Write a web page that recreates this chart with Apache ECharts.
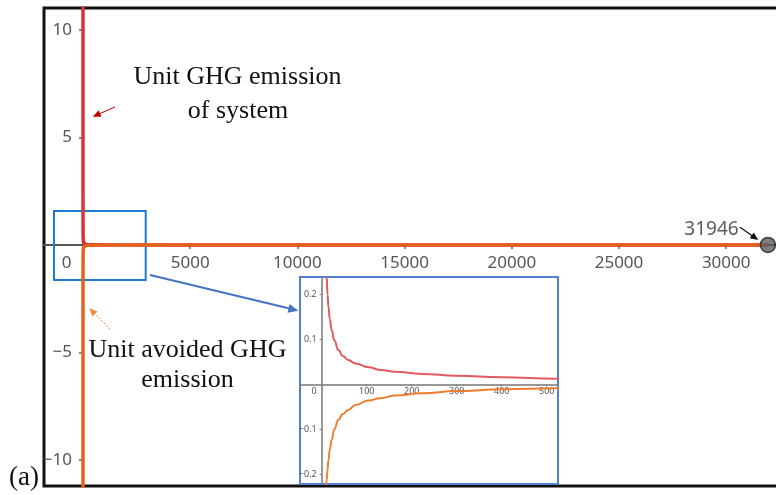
<!DOCTYPE html>
<html>
<head>
<meta charset="utf-8">
<script src="https://cdn.jsdelivr.net/npm/echarts@6/dist/echarts.min.js"></script>
<style>
html,body{margin:0;padding:0;background:#fff;}
#chart{width:776px;height:495px;}
</style>
</head>
<body>
<div id="chart"></div>
<script>
// ---- data ----
const curveX = [0.2, 0.5, 1, 2, 5, 11, 13, 15, 18, 22, 28, 37, 47, 59, 75, 104, 130, 163, 222, 300, 400, 522, 1000, 5000, 31946];
const unitEmission = [12, 5.2, 2.6, 1.3, 0.52, 0.239, 0.2, 0.172, 0.145, 0.121, 0.098, 0.076, 0.063, 0.054, 0.046, 0.038, 0.032, 0.028, 0.023, 0.019, 0.0155, 0.0125, 0.007, 0.0015, 0.0003];
const unitAvoided = [-12, -4.6, -2.3, -1.15, -0.46, -0.213, -0.19, -0.168, -0.145, -0.124, -0.1, -0.079, -0.066, -0.057, -0.046, -0.036, -0.031, -0.025, -0.02, -0.015, -0.011, -0.009, -0.005, -0.001, -0.0002];
const endPointX = [31946];
const endPointY = [0];
const mainXTicks = [0, 5000, 10000, 15000, 20000, 25000, 30000];
const mainYTicks = [-10, -5, 5, 10];
const insetXTicks = [0, 100, 200, 300, 400, 500];
const insetYTicks = [-0.2, -0.1, 0.1, 0.2];
const zoomBox = {x: [-1353, 2924], y: [1.58, -1.63]};

// axis ranges
const mainX = [-1819, 32510], mainY = [-11.21, 11.02];
const insetX = [-48.2, 525], insetY = [-0.2216, 0.2384];
// grid boxes (chart layout)
const W = 776, H = 495;
const g0 = {left: 44, top: 8, right: -4, bottom: 9};
const g1 = {left: 300, top: 277, right: 218, bottom: 11};

// offsets so the axes cross at zero (computed from the scales)
function zeroOffsets(g, xr, yr) {
  const w = W - g.left - g.right, h = H - g.top - g.bottom;
  const zx = (0 - xr[0]) / (xr[1] - xr[0]) * w;
  const zy = (yr[1] - 0) / (yr[1] - yr[0]) * h;
  return {x: -(h - zy), y: -zx};
}
const off0 = zeroOffsets(g0, mainX, mainY);
const off1 = zeroOffsets(g1, insetX, insetY);

const chart = echarts.init(document.getElementById('chart'), null, {renderer: 'canvas'});
const minus = v => String(v).replace('-', '\u2212');

function arrow(x1, y1, x2, y2, color, width, headLen, headW, dashed) {
  const dx = x2 - x1, dy = y2 - y1, L = Math.hypot(dx, dy);
  const ux = dx / L, uy = dy / L, px = -uy, py = ux;
  const bx = x2 - ux * headLen, by = y2 - uy * headLen;
  return [
    {type: 'line', shape: {x1: x1, y1: y1, x2: bx + ux * 1, y2: by + uy * 1},
     style: {stroke: color, lineWidth: width, lineDash: dashed ? [2, 1.5] : null}, z: 100},
    {type: 'polygon', shape: {points: [[x2, y2], [bx + px * headW, by + py * headW], [bx - px * headW, by - py * headW]]},
     style: {fill: color}, z: 100}
  ];
}

const serif = '"Liberation Serif", "Times New Roman", serif';
const sans = '"Noto Sans", "Open Sans", sans-serif';

const option = {
  animation: false,
  backgroundColor: '#fff',
  grid: [
    Object.assign({show: true, borderColor: '#111', borderWidth: 3, backgroundColor: '#fff', containLabel: false, outerBoundsMode: 'none'}, g0),
    Object.assign({show: true, borderColor: '#4f80d2', borderWidth: 2, backgroundColor: '#fff', containLabel: false, outerBoundsMode: 'none', z: 10}, g1)
  ],
  xAxis: [
    {type: 'value', gridIndex: 0, min: mainX[0], max: mainX[1], position: 'bottom', offset: off0.x,
     axisLine: {onZero: false, lineStyle: {color: '#555', width: 2}},
     axisTick: {show: true, length: 4, customValues: mainXTicks.slice(1), lineStyle: {color: '#666', width: 1.5}},
     axisLabel: {customValues: mainXTicks, margin: 10, color: '#555', fontSize: 17, fontFamily: sans,
       formatter: v => v === 0 ? '{z|0}' : minus(v),
       rich: {z: {padding: [0, 33, 0, 0], fontSize: 17, color: '#555', fontFamily: sans}}},
     splitLine: {show: false}},
    {type: 'value', gridIndex: 1, min: insetX[0], max: insetX[1], position: 'bottom', offset: off1.x,
     axisLine: {onZero: false, lineStyle: {color: '#777', width: 1.5}},
     axisTick: {show: true, length: 2, customValues: insetXTicks.slice(1), lineStyle: {color: '#777'}},
     axisLabel: {customValues: insetXTicks, margin: 3, color: '#555', fontSize: 9, fontFamily: sans,
       formatter: v => v === 0 ? '{z|0}' : minus(v),
       rich: {z: {padding: [0, 15, 0, 0], fontSize: 9, color: '#555', fontFamily: sans}}},
     splitLine: {show: false}, z: 10}
  ],
  yAxis: [
    {type: 'value', gridIndex: 0, min: mainY[0], max: mainY[1], position: 'left', offset: off0.y,
     axisLine: {onZero: false, lineStyle: {color: '#555', width: 2}},
     axisTick: {show: true, length: 4, customValues: mainYTicks, lineStyle: {color: '#666', width: 1.5}},
     axisLabel: {customValues: mainYTicks, margin: 11, color: '#555', fontSize: 17, fontFamily: sans, formatter: v => minus(v)},
     splitLine: {show: false}},
    {type: 'value', gridIndex: 1, min: insetY[0], max: insetY[1], position: 'left', offset: off1.y,
     axisLine: {onZero: false, lineStyle: {color: '#777', width: 1.5}},
     axisTick: {show: true, length: 2, customValues: insetYTicks, lineStyle: {color: '#777'}},
     axisLabel: {customValues: insetYTicks, margin: 5, color: '#555', fontSize: 9, fontFamily: sans, formatter: v => minus(v)},
     splitLine: {show: false}, z: 10}
  ],
  series: [
    {type: 'line', xAxisIndex: 0, yAxisIndex: 0, showSymbol: false, symbol: 'none', clip: true,
     data: curveX.map((x, i) => [x, unitEmission[i]]),
     lineStyle: {color: '#d8343a', width: 3.5}},
    {type: 'line', xAxisIndex: 0, yAxisIndex: 0, showSymbol: false, symbol: 'none', clip: true,
     data: curveX.map((x, i) => [x, unitAvoided[i]]),
     lineStyle: {color: '#e4621c', width: 3.5}},
    {type: 'scatter', xAxisIndex: 0, yAxisIndex: 0, z: 5,
     data: endPointX.map((x, i) => [x, endPointY[i]]),
     symbolSize: 15,
     itemStyle: {color: '#5e5e5e', borderColor: '#222', borderWidth: 1.5},
     label: {show: true, position: 'left', distance: 5, offset: [-16, -15], formatter: p => String(p.value[0]),
       color: '#333', fontSize: 19, fontFamily: sans},
     markArea: {silent: true,
       itemStyle: {color: 'rgba(0,0,0,0)', borderColor: '#1f7ad2', borderWidth: 2},
       data: [[{coord: [zoomBox.x[0], zoomBox.y[0]]}, {coord: [zoomBox.x[1], zoomBox.y[1]]}]]}},
    {type: 'line', xAxisIndex: 1, yAxisIndex: 1, showSymbol: false, symbol: 'none', clip: true, z: 12,
     smooth: 0.5, smoothMonotone: 'x',
     data: curveX.map((x, i) => [x, unitEmission[i]]),
     lineStyle: {color: '#e25a60', width: 2}},
    {type: 'line', xAxisIndex: 1, yAxisIndex: 1, showSymbol: false, symbol: 'none', clip: true, z: 12,
     smooth: 0.5, smoothMonotone: 'x',
     data: curveX.map((x, i) => [x, unitAvoided[i]]),
     lineStyle: {color: '#ee7e30', width: 2}}
  ],
  graphic: [
    {type: 'text', x: 237.5, y: 77, z: 100, style: {text: 'Unit GHG emission', font: '26px ' + serif, fill: '#111', textAlign: 'center', textVerticalAlign: 'middle'}},
    {type: 'text', x: 238, y: 111, z: 100, style: {text: 'of system', font: '26px ' + serif, fill: '#111', textAlign: 'center', textVerticalAlign: 'middle'}},
    {type: 'text', x: 187.5, y: 350, z: 100, style: {text: 'Unit avoided GHG', font: '26px ' + serif, fill: '#111', textAlign: 'center', textVerticalAlign: 'middle'}},
    {type: 'text', x: 187.5, y: 380, z: 100, style: {text: 'emission', font: '26px ' + serif, fill: '#111', textAlign: 'center', textVerticalAlign: 'middle'}},
    {type: 'text', x: 24, y: 478, z: 100, style: {text: '(a)', font: '27px ' + serif, fill: '#111', textAlign: 'center', textVerticalAlign: 'middle'}}
  ]
    .concat(arrow(115, 107, 92.7, 116.7, '#c00000', 1, 8, 3.5, false))
    .concat(arrow(110, 329, 89.3, 308.3, '#f08a40', 1, 8, 3.5, true))
    .concat(arrow(150, 275, 298.3, 310.7, '#4472c4', 2, 10, 4.5, false))
    .concat(arrow(740, 227.3, 758.3, 240, '#111', 1.3, 8, 3.5, false))
};
chart.setOption(option);
</script>
</body>
</html>
